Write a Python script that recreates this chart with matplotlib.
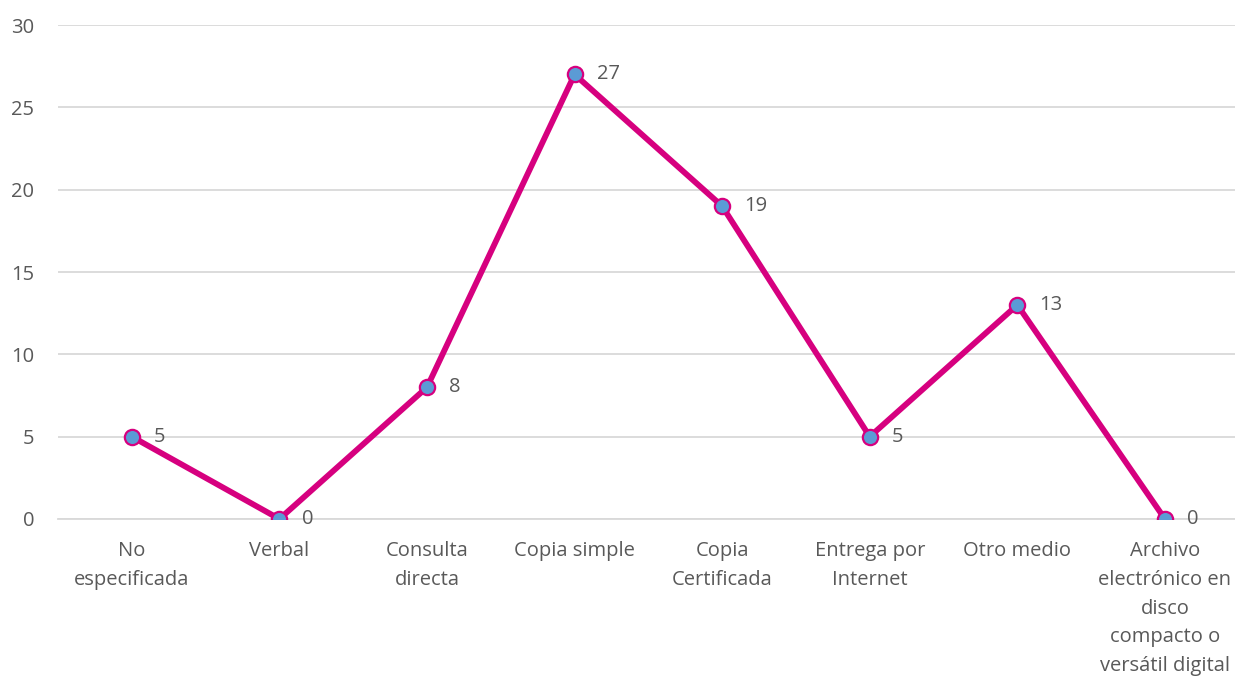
import matplotlib
matplotlib.use("Agg")
import matplotlib.pyplot as plt

categories = [
    "No\nespecificada",
    "Verbal",
    "Consulta\ndirecta",
    "Copia simple",
    "Copia\nCertificada",
    "Entrega por\nInternet",
    "Otro medio",
    "Archivo\nelectrónico en\ndisco\ncompacto o\nversátil digital",
]
values = [5, 0, 8, 27, 19, 5, 13, 0]
y_ticks = [0, 5, 10, 15, 20, 25, 30]

LINE = "#D6007F"
FACE = "#5B9BD5"
TEXT = "#595959"
GRID = "#D9D9D9"

plt.rcParams["font.family"] = ["Open Sans", "DejaVu Sans"]

fig = plt.figure(figsize=(12.35, 6.77), dpi=100)
ax = fig.add_axes([0.047, 0.2334, 0.956, 0.7296])

x = list(range(len(categories)))
ax.plot(x, values, color=LINE, linewidth=4.2, marker="o", markersize=11,
        markerfacecolor=FACE, markeredgecolor=LINE, markeredgewidth=1.6,
        zorder=3, solid_joinstyle="round")

for xi, v in zip(x, values):
    ax.annotate(str(v), (xi, v), xytext=(16, 0), textcoords="offset points",
                ha="left", va="center", fontsize=14.5, color=TEXT)

ax.set_xlim(-0.5, len(categories) - 0.5)
ax.set_ylim(0, 30)
ax.set_yticks(y_ticks)
ax.set_xticks(x)
ax.set_xticklabels(categories, linespacing=1.58)

ax.grid(axis="y", color=GRID, linewidth=1.3)
ax.set_axisbelow(True)
for side in ["top", "right", "left"]:
    ax.spines[side].set_visible(False)
ax.spines["bottom"].set_color(GRID)
ax.spines["bottom"].set_linewidth(1.3)

ax.tick_params(axis="both", length=0, labelsize=14.5, colors=TEXT)
ax.tick_params(axis="y", pad=17)
ax.tick_params(axis="x", pad=16)
for lbl in ax.get_xticklabels():
    lbl.set_verticalalignment("top")

fig.savefig("out.png", dpi=100)
